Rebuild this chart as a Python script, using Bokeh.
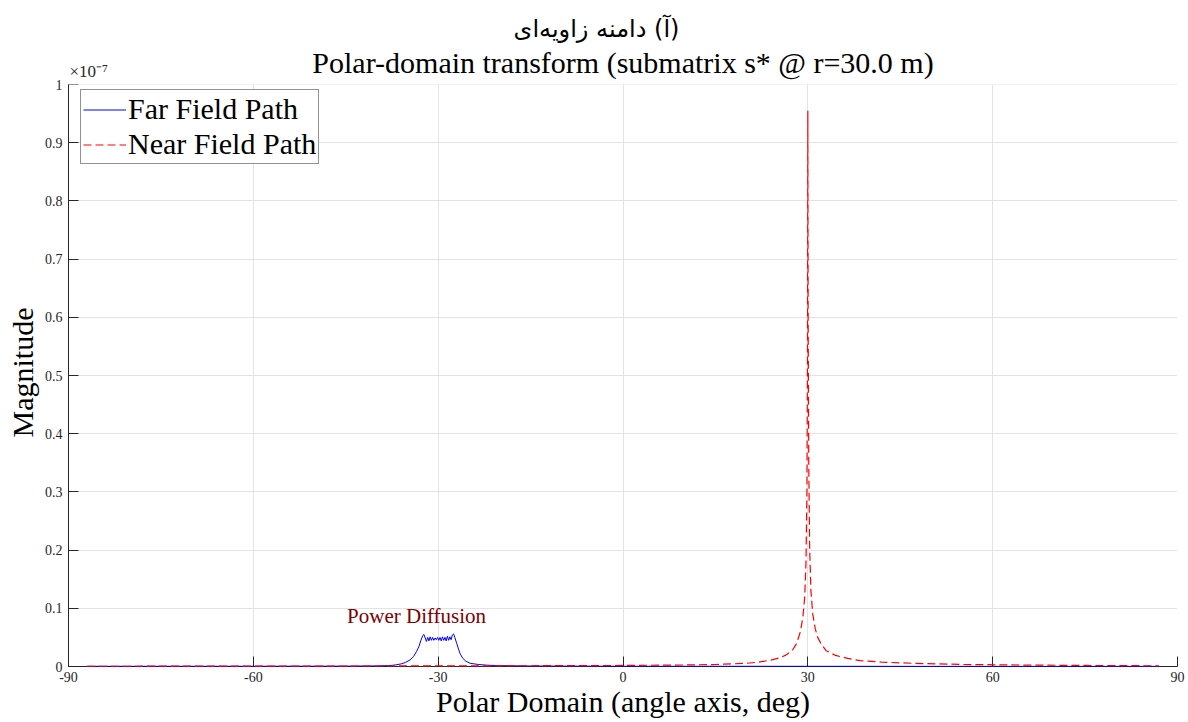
from bokeh.plotting import figure
from bokeh.models import Range1d, FixedTicker, Legend, LegendItem, Label, BoxAnnotation, Title
from bokeh.embed import file_html
from bokeh.resources import INLINE

# ---- data (magnitude in units of 1e-7) ----
far_angle = [-87.0, -60.0, -45.0, -40.0, -38.0, -37.0, -36.0, -35.3, -34.6, -34.0,
             -33.5, -33.1, -32.8, -32.5, -32.3, -32.1, -31.9, -31.7, -31.5, -31.3,
             -31.1, -30.9, -30.7, -30.5, -30.3, -30.1, -29.9, -29.7, -29.5, -29.3,
             -29.1, -28.9, -28.7, -28.5, -28.3, -28.1, -27.9, -27.7, -27.5, -27.3,
             -27.0, -26.7, -26.4, -26.0, -25.5, -24.8, -23.5, -22.0, -20.0, -15.0,
             0.0, 30.0, 60.0, 87.0]
far_mag = [0.0003, 0.0004, 0.0006, 0.0010, 0.0015, 0.0025, 0.0045, 0.0070, 0.0110, 0.0170,
           0.0260, 0.0350, 0.0450, 0.0530, 0.0550, 0.0490, 0.0430, 0.0500, 0.0440, 0.0510,
           0.0450, 0.0500, 0.0450, 0.0490, 0.0460, 0.0500, 0.0450, 0.0500, 0.0440, 0.0510,
           0.0450, 0.0500, 0.0440, 0.0520, 0.0450, 0.0510, 0.0460, 0.0540, 0.0560, 0.0500,
           0.0400, 0.0300, 0.0210, 0.0140, 0.0090, 0.0055, 0.0035, 0.0022, 0.0015, 0.0008,
           0.0004, 0.0003, 0.0002, 0.0002]

near_angle = [-87.0, -75.0, -60.0, -45.0, -30.0, -15.0, 0.0, 10.0, 15.0, 20.0,
              22.0, 24.0, 25.5, 26.5, 27.5, 28.2, 28.8, 29.2, 29.5, 29.7,
              29.85, 29.95, 30.0, 30.05, 30.15, 30.3, 30.5, 30.8, 31.2, 31.6,
              32.2, 33.0, 34.5, 36.5, 38.5, 42.0, 47.0, 55.0, 65.0, 75.0, 87.0]
near_mag = [0.0004, 0.0005, 0.0006, 0.0008, 0.0010, 0.0013, 0.0018, 0.0026, 0.0034, 0.0055,
            0.0075, 0.0110, 0.0150, 0.0200, 0.0280, 0.0400, 0.0600, 0.0850, 0.1200, 0.1800,
            0.3000, 0.5500, 0.9550, 0.6000, 0.3500, 0.2000, 0.1300, 0.0900, 0.0650, 0.0500,
            0.0380, 0.0270, 0.0190, 0.0140, 0.0100, 0.0075, 0.0055, 0.0035, 0.0025, 0.0018, 0.0012]

x_ticks = [-90, -60, -30, 0, 30, 60, 90]
y_ticks = [0, 0.1, 0.2, 0.3, 0.4, 0.5, 0.6, 0.7, 0.8, 0.9, 1]
y_tick_labels = ["0", "0.1", "0.2", "0.3", "0.4", "0.5", "0.6", "0.7", "0.8", "0.9", "1"]

title_fa = "\u200f(آ) دامنه زاویه\u200cای\u200f"
title_en = "Polar-domain transform (submatrix s* @ r=30.0 m)"
x_label = "Polar Domain (angle axis, deg)"
y_label = "Magnitude"
legend_labels = ["Far Field Path", "Near Field Path"]
annot_text = "Power Diffusion"
exp_text = "\u00d710\u207b\u2077"

SERIF = "Liberation Serif"
DARK = "#262626"

# frame spans the full top of the figure; the area above y=1 holds the titles
Y_TOP = 666.0 / 582.0

p = figure(width=1185, height=721, x_range=Range1d(-90, 90), y_range=Range1d(0, Y_TOP),
           output_backend="svg", toolbar_location=None, title=None,
           min_border_left=68, min_border_right=8, min_border_top=0, min_border_bottom=55)
p.background_fill_color = "white"
p.border_fill_color = "white"
p.outline_line_color = None

p.xaxis.ticker = FixedTicker(ticks=x_ticks)
p.yaxis.ticker = FixedTicker(ticks=y_ticks)
p.yaxis.major_label_overrides = {t: l for t, l in zip(y_ticks, y_tick_labels)}
p.xaxis.major_label_overrides = {t: str(t) for t in x_ticks}
p.yaxis.bounds = (0, 1)

for ax in (p.xaxis[0], p.yaxis[0]):
    ax.axis_line_color = DARK
    ax.major_tick_line_color = DARK
    ax.major_tick_in = 10
    ax.major_tick_out = 0
    ax.minor_tick_line_color = None
    ax.major_label_text_font = SERIF
    ax.major_label_text_font_size = "14px"
    ax.major_label_text_color = DARK
    ax.axis_label_text_font = SERIF
    ax.axis_label_text_font_size = "30px"
    ax.axis_label_text_font_style = "normal"
    ax.axis_label_text_color = "black"
p.xaxis.axis_label = x_label
p.xaxis.major_label_standoff = 5
p.yaxis.major_label_standoff = 6
p.xaxis.axis_label_standoff = 0

# y-axis label as a left-side title, positioned along the 0..1 part of the axis
p.add_layout(Title(text=y_label, text_font=SERIF, text_font_size="30px", text_font_style="normal",
                   text_color="black", align="left", offset=229, standoff=5), "left")

p.grid.grid_line_color = "#e3e3e3"
p.grid.grid_line_width = 1

r_far = p.line(far_angle, far_mag, line_color="#0000ff", line_width=1, level="overlay")
r_near = p.line(near_angle, near_mag, line_color="#ff0000", line_width=1.2, line_dash="8 4",
                level="overlay")

# white mask above y = 1 (hides grid lines there)
p.add_layout(BoxAnnotation(bottom=1, fill_color="white", fill_alpha=1.0, line_color=None))

legend = Legend(items=[LegendItem(label=legend_labels[0], renderers=[r_far]),
                       LegendItem(label=legend_labels[1], renderers=[r_near])],
                location=(12, 502), padding=2, spacing=1,
                glyph_width=43, glyph_height=31, label_height=31, label_standoff=2,
                label_text_font=SERIF, label_text_font_size="30px", label_text_color="black",
                border_line_color=DARK, border_line_width=1,
                background_fill_color="white", background_fill_alpha=1.0)
p.add_layout(legend)

p.add_layout(Label(x=-33.5, y=0.086, text=annot_text, text_align="center", text_baseline="middle",
                   text_font=SERIF, text_font_size="21px", text_color="#800000"))
p.add_layout(Label(x=-90, y=1, x_offset=1, y_offset=4, text=exp_text, text_align="left",
                   text_baseline="bottom", text_font=SERIF, text_font_size="17px", text_color=DARK))
p.add_layout(Label(x=0, y=1.0378, text=title_en, text_align="center", text_baseline="middle",
                   text_font=SERIF, text_font_size="30px", text_color="black"))
p.add_layout(Label(x=-4.3, y=1.0962, text=title_fa, text_align="center", text_baseline="middle",
                   text_font="DejaVu Sans", text_font_size="24px", text_color="black"))

open("out.html", "w").write(file_html(p, INLINE))
